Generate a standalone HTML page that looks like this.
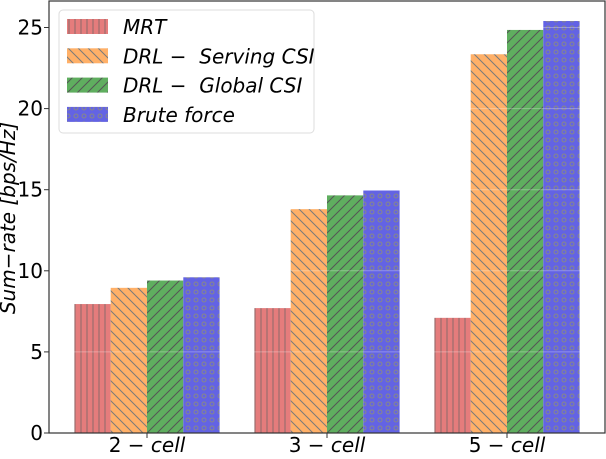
<!DOCTYPE html>
<html><head><meta charset="utf-8"><style>
body{margin:0;background:#fff;}
svg{font-family:"DejaVu Sans","Liberation Sans",sans-serif;}
</style></head><body>
<svg id="chart" width="606" height="454" viewBox="0 0 606 454">
<defs>
<pattern id="pMRT" width="6" height="10" patternUnits="userSpaceOnUse"><rect width="6" height="10" fill="#e57c7c"/><line x1="3" y1="0" x2="3" y2="10" stroke="#8a6a6a" stroke-width="1"/></pattern>
<pattern id="pSrv" width="10" height="10" patternUnits="userSpaceOnUse"><rect width="10" height="10" fill="#ffb068"/><path d="M0,0 L10,10 M-5,5 L5,15 M5,-5 L15,5" stroke="#7a7a7a" stroke-width="1"/></pattern>
<pattern id="pGlb" width="10" height="10" patternUnits="userSpaceOnUse"><rect width="10" height="10" fill="#5fae5f"/><path d="M0,10 L10,0 M-5,5 L5,-5 M5,15 L15,5" stroke="#555" stroke-width="1"/></pattern>
<pattern id="pBru" width="8" height="8" patternUnits="userSpaceOnUse"><rect width="8" height="8" fill="#6363e4"/><circle cx="4" cy="4" r="2" fill="none" stroke="#888" stroke-width="1"/></pattern>
</defs>
<g id="grid"></g>
<g id="bars"></g>
<g id="axes"></g>
</svg>
<script>
const categories = ["2\u2212cell","3\u2212cell","5\u2212cell"];
const mrt = [7.95, 7.7, 7.1];
const drlServing = [8.95, 13.8, 23.35];
const drlGlobal = [9.4, 14.65, 24.85];
const bruteForce = [9.6, 14.95, 25.4];
const yTicks = [0,5,10,15,20,25];
const seriesNames = ["DRL","MRT"].length ? ["MRT","DRL \u2212  Serving CSI","DRL \u2212  Global CSI","Brute force"] : [];

const NS="http://www.w3.org/2000/svg";
const L=49,R=605,T=1,B=433;
const y=v=>B-v*16.22;
const x0=147, step=180;
const xc=i=>x0+i*step;
const bw=36.3;
const fills=["url(#pMRT)","url(#pSrv)","url(#pGlb)","url(#pBru)"];
const series=[mrt,drlServing,drlGlobal,bruteForce];
const keys=["mrt","drl-serving","drl-global","brute-force"];
function mk(t,a,p){const e=document.createElementNS(NS,t);for(const k in a)e.setAttribute(k,a[k]);p.appendChild(e);return e;}
const bars=document.getElementById('bars'),axes=document.getElementById('axes');
series.forEach((s,si)=>{s.forEach((v,ci)=>{
 const x=xc(ci)+(si-2)*bw;
 const r=mk('rect',{x:x,y:y(v),width:bw,height:B-y(v),fill:fills[si]},bars);
 
 
});});
yTicks.forEach(t=>{if(t>0){const g=mk('line',{x1:L,x2:R,y1:y(t),y2:y(t),stroke:'#fff','stroke-opacity':0.3,'stroke-width':1},axes);
 
 }});
const f=mk('rect',{x:L,y:T,width:R-L,height:B-T,fill:'none',stroke:'#333','stroke-width':1.2},axes);


yTicks.forEach(t=>{
 mk('line',{x1:L-5,x2:L,y1:y(t),y2:y(t),stroke:'#333'},axes);
 const tx=mk('text',{x:L-6,y:y(t)+7,'text-anchor':'end','font-size':20,fill:'#000'},axes);
 tx.textContent=t;
 
 
});
categories.forEach((c,i)=>{
 mk('line',{x1:xc(i),x2:xc(i),y1:B,y2:B+5,stroke:'#333'},axes);
 const tx=mk('text',{x:xc(i),y:B+19,'text-anchor':'middle','font-size':20,fill:'#000'},axes);
 const parts=c.split('\u2212');
 tx.innerHTML=parts[0]+' \u2212 <tspan font-style="italic">'+parts[1]+'</tspan>';
 
 
});
const yl=mk('text',{x:0,y:0,transform:'translate(15,218) rotate(-90)','text-anchor':'middle','font-size':20,'font-style':'italic',fill:'#000'},axes);
yl.textContent='Sum\u2212rate [bps/Hz]';


const lg=mk('g',{},axes);


mk('rect',{x:59,y:10,width:255,height:123,rx:4,fill:'#fff','fill-opacity':0.8,stroke:'#ddd'},lg);
seriesNames.forEach((n,i)=>{
 const yy=19+i*29.3;
 const sw=mk('rect',{x:67,y:yy,width:41,height:15,fill:fills[i]},lg);
 
 
 const tx=mk('text',{x:123,y:yy+15,'font-size':20,'font-style':'italic',fill:'#000'},lg);
 tx.setAttribute('xml:space','preserve');
 tx.style.whiteSpace='pre';
 tx.textContent=n;
 
 
});
</script>
</body></html>
